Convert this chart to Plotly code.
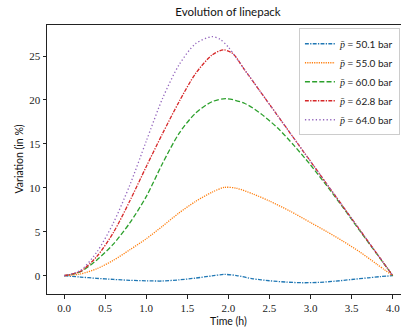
import plotly.graph_objects as go

# Time (h) / variation (%)
t_blue = [0.0, 0.2, 0.4, 0.6, 0.8, 1.0, 1.2, 1.4, 1.6, 1.8, 1.95, 2.1, 2.3, 2.5, 2.7, 2.9, 3.1, 3.3, 3.5, 3.7, 3.85, 4.0]
v_blue = [0.0, -0.15, -0.3, -0.42, -0.52, -0.58, -0.6, -0.47, -0.27, -0.02, 0.15, 0.02, -0.35, -0.57, -0.72, -0.8, -0.76, -0.62, -0.43, -0.24, -0.1, 0.0]

t_orange = [0.0, 0.2, 0.4, 0.6, 0.8, 1.0, 1.2, 1.4, 1.6, 1.8, 1.95, 2.1, 2.3, 2.5, 2.75, 3.0, 3.2, 3.4, 3.6, 3.8, 4.0]
v_orange = [0.0, 0.2, 0.8, 1.75, 2.95, 4.2, 5.65, 7.15, 8.45, 9.5, 10.05, 9.95, 9.3, 8.5, 7.35, 6.05, 5.0, 3.9, 2.7, 1.35, 0.0]

t_green = [0.0, 0.2, 0.4, 0.6, 0.8, 1.0, 1.2, 1.4, 1.6, 1.8, 1.97, 2.2, 2.4, 2.6, 2.8, 3.0, 3.2, 3.4, 3.6, 3.8, 4.0]
v_green = [0.0, 0.45, 1.8, 3.6, 6.0, 9.0, 12.8, 16.2, 18.5, 19.8, 20.15, 19.6, 18.4, 16.8, 14.8, 12.6, 10.2, 7.7, 5.1, 2.55, 0.0]

t_red = [0.0, 0.2, 0.4, 0.6, 0.8, 1.0, 1.2, 1.4, 1.6, 1.8, 1.94, 2.05, 2.2, 2.4, 2.6, 2.8, 3.0, 3.2, 3.4, 3.6, 3.8, 4.0]
v_red = [0.0, 0.5, 2.2, 4.9, 8.5, 12.4, 16.2, 19.8, 23.0, 25.1, 25.7, 25.3, 23.4, 20.8, 18.2, 15.6, 13.0, 10.4, 7.8, 5.2, 2.6, 0.0]

t_purple = [0.0, 0.2, 0.4, 0.6, 0.8, 1.0, 1.2, 1.4, 1.6, 1.8, 1.9, 2.0, 2.2, 2.4, 2.6, 2.8, 3.0, 3.2, 3.4, 3.6, 3.8, 4.0]
v_purple = [0.0, 0.6, 2.7, 6.0, 10.3, 15.3, 20.2, 24.0, 26.4, 27.2, 26.9, 26.0, 23.4, 20.8, 18.2, 15.6, 13.0, 10.4, 7.8, 5.2, 2.6, 0.0]

labels = ["50.1", "55.0", "60.0", "62.8", "64.0"]
colors = ["#1f77b4", "#ff7f0e", "#2ca02c", "#d62728", "#9467bd"]
dashes = ["3.9px,1.3px,1.3px,1.3px", "1.2px,1.1px", "5px,2.2px", "3.9px,1.3px,1.3px,1.3px", "1.3px,2.3px"]

x_ticks = [0.0, 0.5, 1.0, 1.5, 2.0, 2.5, 3.0, 3.5, 4.0]
y_ticks = [0, 5, 10, 15, 20, 25]

series = [(t_blue, v_blue), (t_orange, v_orange), (t_green, v_green), (t_red, v_red), (t_purple, v_purple)]

SANS = "Lato"
SERIF = "Liberation Serif"

fig = go.Figure()
for (tt, vv), lab, c, d in zip(series, labels, colors, dashes):
    fig.add_trace(go.Scatter(
        x=tt, y=vv, mode="lines",
        line=dict(color=c, width=1.3, dash=d, shape="spline", smoothing=0.8),
        name="<span style='font-family:Liberation Serif'><i>p̄</i> = </span>" + lab + " bar",
    ))

W, H = 401, 329
L, R, T, B = 47, 0, 25, 35
fig.update_layout(
    width=W, height=H,
    margin=dict(l=L, r=R, t=T, b=B),
    paper_bgcolor="white", plot_bgcolor="white",
    showlegend=True,
    legend=dict(
        x=0.997, xanchor="right", y=0.988, yanchor="top",
        bgcolor="white", bordercolor="#cccccc", borderwidth=1,
        font=dict(family=SANS, size=10, color="#222"),
        tracegroupgap=0, itemwidth=30,
    ),
    title=dict(text="Evolution of linepack", x=228 / W, xanchor="center",
               xref="container", yref="container", y=1 - 12 / H, yanchor="middle",
               font=dict(family=SANS, size=11.5, color="#111")),
)
fig.update_xaxes(
    range=[-0.207, 4.1], tickvals=x_ticks, ticktext=[f"{v:.1f}" for v in x_ticks],
    showgrid=False, zeroline=False, showline=True, linecolor="#222", linewidth=1, mirror=True,
    ticks="outside", ticklen=3.5, tickcolor="#222", tickwidth=1,
    tickfont=dict(family=SERIF, size=11, color="#222"),
)
fig.update_yaxes(
    range=[-2.08, 28.53], tickvals=y_ticks, ticktext=[str(v) for v in y_ticks],
    showgrid=False, zeroline=False, showline=True, linecolor="#222", linewidth=1, mirror=True,
    ticks="outside", ticklen=3.5, tickcolor="#222", tickwidth=1,
    tickfont=dict(family=SERIF, size=11, color="#222"),
)
fig.add_annotation(text="Time (h)", xref="paper", yref="paper",
                   x=(228 - L) / (W - L), y=-(321 - 294) / (H - T - B),
                   xanchor="center", yanchor="middle", showarrow=False,
                   font=dict(family=SANS, size=10.5, color="#111"))
fig.add_annotation(text="Variation (in %)", xref="paper", yref="paper",
                   x=-(47 - 18) / (W - L), y=0.5, textangle=-90,
                   xanchor="center", yanchor="middle", showarrow=False,
                   font=dict(family=SANS, size=10.5, color="#111"))

fig.write_html("out.html")
